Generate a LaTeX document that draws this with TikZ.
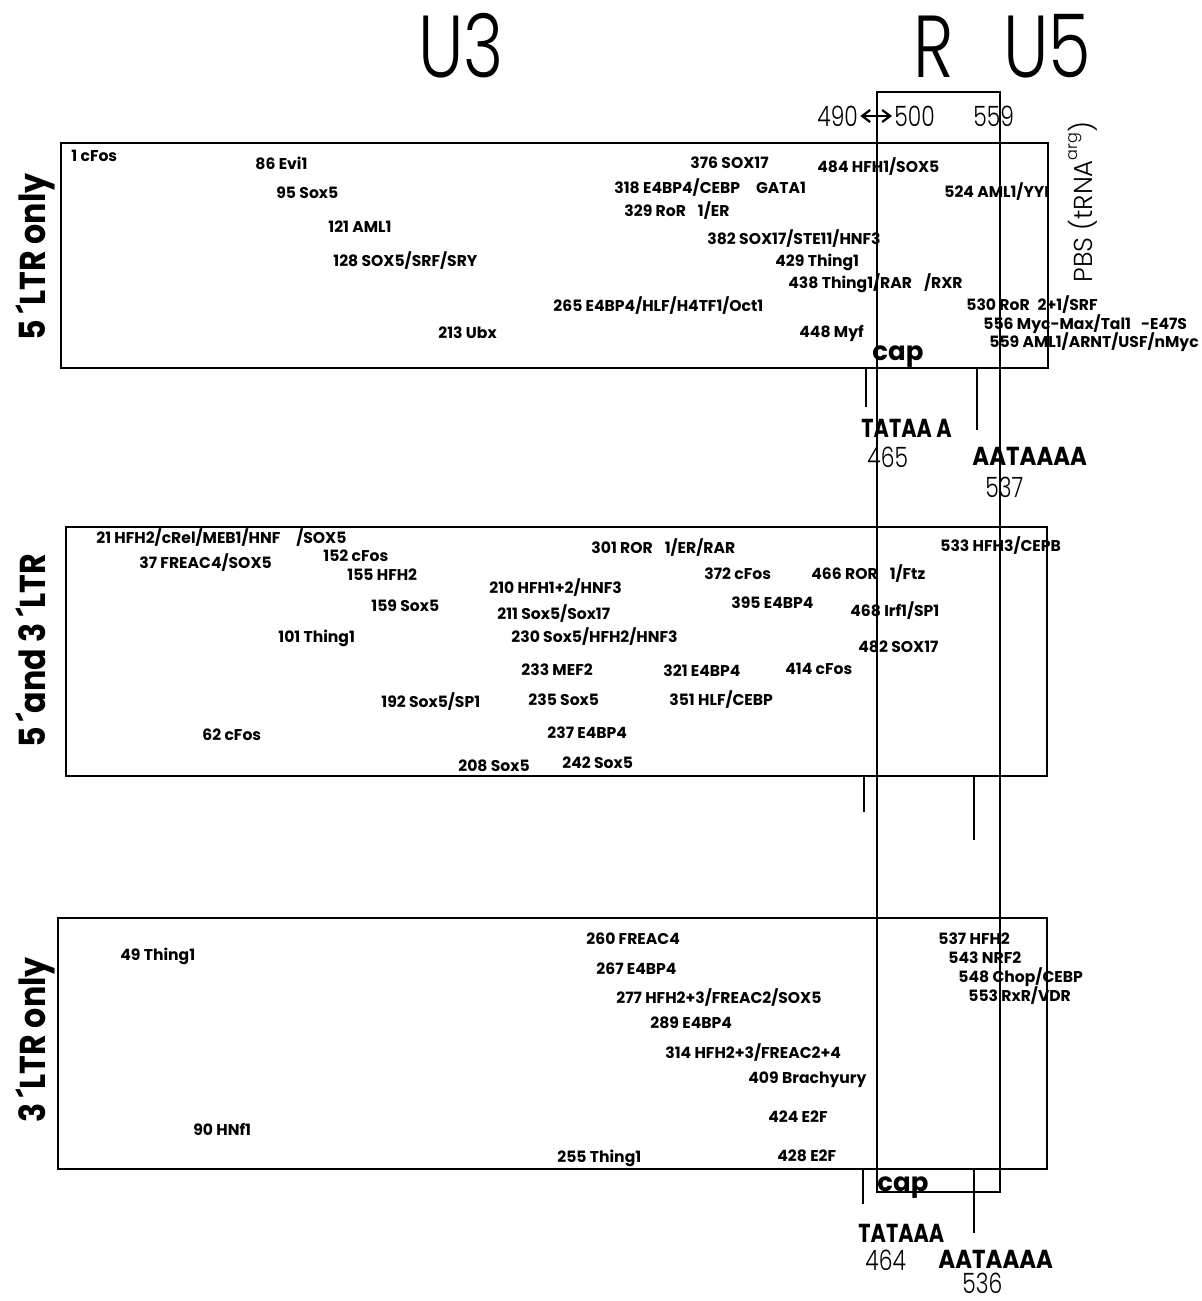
\documentclass[tikz,border=0pt]{standalone}
\usepackage{fontspec}
\setmainfont{Poppins}
\newfontfamily\lightf{Poppins Light}
\newfontfamily\bigf{Poppins Light}[FakeStretch=0.78]
\newfontfamily\condf{Poppins}[FakeStretch=0.88]
\newfontfamily\tatf{Poppins}[FakeStretch=0.8]
\usetikzlibrary{arrows.meta,fit}
\begin{document}
\begin{tikzpicture}[x=0.5pt,y=-0.5pt,
  tf/.style={font=\bfseries\fontsize{7.8}{8}\selectfont, inner sep=0pt, anchor=west, text height=5.5pt, text depth=0pt},
  ltrbox/.style={draw, line width=1.35pt, inner sep=0pt},
  region/.style={draw, line width=0.6pt},
  tick/.style={line width=1.35pt},
  side/.style={font=\condf\bfseries\fontsize{18}{18}\selectfont, inner sep=0pt, rotate=90, anchor=base},
  bigtxt/.style={font=\bigf\fontsize{44}{44}\selectfont, inner sep=0pt, anchor=base west},
  num/.style={font=\bigf\fontsize{14}{14}\selectfont, inner sep=0pt, anchor=base west},
  motif/.style={font=\condf\bfseries\fontsize{13}{13}\selectfont, inner sep=0pt, anchor=base west},
  tatamotif/.style={font=\tatf\bfseries\fontsize{13}{13}\selectfont, inner sep=0pt, anchor=base west},
  caplbl/.style={font=\bfseries\fontsize{13}{13}\selectfont, inner sep=0pt, anchor=base west}
]
\useasboundingbox (0,0) rectangle (1201,1301);

% boxes
\coordinate (b1nw) at (61,143); \coordinate (b1se) at (1048,368);
\coordinate (b2nw) at (66,527); \coordinate (b2se) at (1047,776);
\coordinate (b3nw) at (58,918); \coordinate (b3se) at (1047,1169);
\node[ltrbox, fit=(b1nw)(b1se)] (box1) {};
\node[ltrbox, fit=(b2nw)(b2se)] (box2) {};
\node[ltrbox, fit=(b3nw)(b3se)] (box3) {};

% R region rectangle
\coordinate (rnw) at (877,92); \coordinate (rse) at (1000,1192);
\draw[region] (rnw) rectangle (rse);

% ticks
\coordinate (t1a) at (866,368); \coordinate (t1b) at (866,407);
\coordinate (t2a) at (977,368); \coordinate (t2b) at (977,430);
\coordinate (t3a) at (864,776); \coordinate (t3b) at (864,812);
\coordinate (t4a) at (974,776); \coordinate (t4b) at (974,840);
\coordinate (t5a) at (863,1169); \coordinate (t5b) at (863,1204);
\coordinate (t6a) at (974,1169); \coordinate (t6b) at (974,1233);
\draw[tick] (t1a) -- (t1b);
\draw[tick] (t2a) -- (t2b);
\draw[tick] (t3a) -- (t3b);
\draw[tick] (t4a) -- (t4b);
\draw[tick] (t5a) -- (t5b);
\draw[tick] (t6a) -- (t6b);

% headings
\node[bigtxt, anchor=base] (u3) at (461,77) {U3};
\node[bigtxt] (r) at (913,77) {R};
\node[bigtxt] (u5) at (1003,77) {U5};
\node[num] (n490) at (817,126) {490};
\node[num] (n500) at (894,126) {500};
\node[num] (n559) at (973,126) {559};
\draw[{Straight Barb[length=4pt,width=6pt]}-{Straight Barb[length=4pt,width=6pt]}, line width=1.1pt] ([xshift=1pt,yshift=5pt]n490.base east) -- ([xshift=-1pt,yshift=5pt]n500.base west);
\node[font=\lightf\fontsize{13}{13}\selectfont, inner sep=0pt, rotate=90, anchor=base west] (pbs) at (1092,283) {PBS (tRNA\raisebox{1.05ex}{\fontsize{8}{8}\selectfont arg})};

% side labels
\node[side] (s1) at (46,257) {5\,´LTR only};
\node[side] (s2) at (46,651) {5\,´and 3\,´LTR};
\node[side] (s3) at (46,1040) {3\,´LTR only};

% cap / TATA / polyA top
\node[caplbl] (cap1) at (872,360) {cap};
\node[tatamotif] (tata1) at (861,437) {TATAA A};
\node[num] (p465) at (867,467) {465};
\node[motif] (aat1) at (972,465) {AATAAAA};
\node[num] (p537) at (985,497) {537};
% bottom
\node[caplbl] (cap2) at (877,1191) {cap};
\node[tatamotif] (tata2) at (858,1242) {TATAAA};
\node[num] (p464) at (865,1270) {464};
\node[motif] (aat2) at (938,1268) {AATAAAA};
\node[num] (p536) at (962,1293) {536};

% box 1 labels
\node[tf] (a1) at (71,156) {1 cFos};
\node[tf] (a2) at (255,164) {86 Evi1};
\node[tf] (a3) at (276,193) {95 Sox5};
\node[tf] (a4) at (328,227) {121 AML1};
\node[tf] (a5) at (333,261) {128 SOX5/SRF/SRY};
\node[tf] (a6) at (438,333) {213 Ubx};
\node[tf] (a7) at (690,163) {376 SOX17};
\node[tf] (a8) at (817,167) {484 HFH1/SOX5};
\node[tf] (a9) at (614,188) {318 E4BP4/CEBP\hspace{8pt}GATA1};
\node[tf] (a10) at (624,211) {329 RoR\hspace{6pt}1/ER};
\node[tf] (a11) at (944,192) {524 AML1/YYI};
\node[tf] (a12) at (707,239) {382 SOX17/STE11/HNF3};
\node[tf] (a13) at (775,261) {429 Thing1};
\node[tf] (a14) at (788,283) {438 Thing1/RAR\hspace{6pt}/RXR};
\node[tf] (a15) at (553,306) {265 E4BP4/HLF/H4TF1/Oct1};
\node[tf] (a16) at (966,305) {530 RoR\hspace{4pt}2+1/SRF};
\node[tf] (a17) at (983,324) {556 Myc-Max/Tal1\hspace{5pt}-E47S};
\node[tf] (a18) at (799,332) {448 Myf};
\node[tf] (a19) at (989,342) {559 AML1/ARNT/USF/nMyc};

% box 2 labels
\node[tf] (c1) at (96,538) {21 HFH2/cRel/MEB1/HNF\hspace{8pt}/SOX5};
\node[tf] (c2) at (323,556) {152 cFos};
\node[tf] (c3) at (139,563) {37 FREAC4/SOX5};
\node[tf] (c4) at (347,575) {155 HFH2};
\node[tf] (c5) at (591,548) {301 ROR\hspace{6pt}1/ER/RAR};
\node[tf] (c6) at (940,546) {533 HFH3/CEPB};
\node[tf] (c7) at (704,574) {372 cFos};
\node[tf] (c8) at (811,574) {466 ROR\hspace{6pt}1/Ftz};
\node[tf] (c9) at (489,588) {210 HFH1+2/HNF3};
\node[tf] (c10) at (371,606) {159 Sox5};
\node[tf] (c11) at (731,603) {395 E4BP4};
\node[tf] (c12) at (497,614) {211 Sox5/Sox17};
\node[tf] (c13) at (850,611) {468 Irf1/SP1};
\node[tf] (c14) at (278,637) {101 Thing1};
\node[tf] (c15) at (511,637) {230 Sox5/HFH2/HNF3};
\node[tf] (c16) at (858,647) {482 SOX17};
\node[tf] (c17) at (521,670) {233 MEF2};
\node[tf] (c18) at (663,671) {321 E4BP4};
\node[tf] (c19) at (785,669) {414 cFos};
\node[tf] (c20) at (381,702) {192 Sox5/SP1};
\node[tf] (c21) at (528,700) {235 Sox5};
\node[tf] (c22) at (669,700) {351 HLF/CEBP};
\node[tf] (c23) at (202,735) {62 cFos};
\node[tf] (c24) at (547,733) {237 E4BP4};
\node[tf] (c25) at (458,766) {208 Sox5};
\node[tf] (c26) at (562,763) {242 Sox5};

% box 3 labels
\node[tf] (d1) at (120,955) {49 Thing1};
\node[tf] (d2) at (193,1130) {90 HNf1};
\node[tf] (d3) at (586,939) {260 FREAC4};
\node[tf] (d4) at (938,939) {537 HFH2};
\node[tf] (d5) at (948,958) {543 NRF2};
\node[tf] (d6) at (958,977) {548 Chop/CEBP};
\node[tf] (d7) at (968,996) {553 RxR/VDR};
\node[tf] (d8) at (596,969) {267 E4BP4};
\node[tf] (d9) at (616,998) {277 HFH2+3/FREAC2/SOX5};
\node[tf] (d10) at (650,1023) {289 E4BP4};
\node[tf] (d11) at (665,1053) {314 HFH2+3/FREAC2+4};
\node[tf] (d12) at (748,1078) {409 Brachyury};
\node[tf] (d13) at (768,1117) {424 E2F};
\node[tf] (d14) at (557,1157) {255 Thing1};
\node[tf] (d15) at (777,1156) {428 E2F};
\end{tikzpicture}
\end{document}
